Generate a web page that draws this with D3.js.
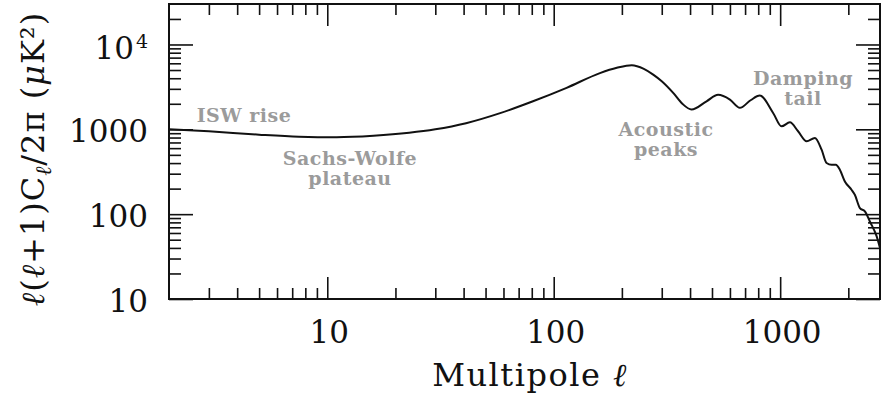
<!DOCTYPE html>
<html lang="en">
<head>
  <meta charset="UTF-8">
  <title>CMB angular power spectrum</title>
  <script src="https://d3js.org/d3.v7.min.js"></script>
  <style>
    body { margin: 0; background: #fff; overflow: hidden; }
    .lbl { font-family: "DejaVu Serif", serif; font-size: 31px; fill: #111; }
    .title { font-family: "DejaVu Serif", serif; font-size: 32px; fill: #111; }
    .note { font-family: "DejaVu Serif", serif; font-weight: bold; font-size: 19px; fill: #9b9b9b; letter-spacing: 0.5px; }
  </style>
</head>
<body>
<svg id="chart" width="881" height="399"></svg>

<script>
// multipole l and l(l+1)C_l/2pi in uK^2
const multipole = [2, 3, 5, 7.5, 11, 16, 23, 30, 41, 58, 81, 114, 160, 190, 221, 250, 275, 300, 337, 370, 406,
  473, 532, 600, 664, 740, 813, 931, 1014, 1104, 1200, 1309, 1423, 1524, 1603, 1686, 1762, 1835, 1931,
  2066, 2137, 2250, 2367, 2490, 2666, 2760];
const power = [1000, 946, 865, 820, 808, 840, 910, 1000, 1180, 1550, 2140, 3080, 4600, 5310, 5700, 5170, 4420, 3690, 2690, 2000, 1710,
  2140, 2550, 2240, 1790, 2200, 2500, 1560, 1084, 1209, 948, 722, 791, 576, 401, 383, 383, 334, 243,
  194, 169, 118, 108, 82, 55, 40];

const xMajor = [10, 100, 1000];
const xMinor = [3, 4, 5, 6, 7, 8, 9, 20, 30, 40, 50, 60, 70, 80, 90, 200, 300, 400, 500, 600, 700, 800, 900, 2000];
const yMajor = [10, 100, 1000, 10000];
const yMinor = [20, 30, 40, 50, 60, 70, 80, 90, 200, 300, 400, 500, 600, 700, 800, 900,
  2000, 3000, 4000, 5000, 6000, 7000, 8000, 9000, 20000];
const xLabels = ["10", "100", "1000"];
const yLabels = [["10", ""], ["100", ""], ["1000", ""], ["10", "4"]];

const notes = [
  ["ISW rise"],
  ["Sachs-Wolfe", "plateau"],
  ["Acoustic", "peaks"],
  ["Damping", "tail"]
];

const svg = d3.select("#chart");
const plotL = 169, plotR = 880, plotT = 4, plotB = 299;

const x = d3.scaleLog().domain([2, 2760]).range([plotL, plotR]);
const y = d3.scaleLog().domain([10, 30000]).range([plotB, plotT]);

// ticks on all four sides, pointing inward
function ticks(gen, vals, len, tx, ty) {
  svg.append("g")
    .attr("transform", `translate(${tx},${ty})`)
    .call(gen.tickValues(vals).tickSize(len).tickFormat(""))
    .call(g => g.select(".domain").remove())
    .call(g => g.selectAll("line").attr("stroke", "#111").attr("stroke-width", 1.6));
}
ticks(d3.axisBottom(x), xMinor, -11, 0, plotB);
ticks(d3.axisBottom(x), xMajor, -22, 0, plotB);
ticks(d3.axisTop(x), xMinor, -11, 0, plotT);
ticks(d3.axisTop(x), xMajor, -22, 0, plotT);
ticks(d3.axisLeft(y), yMinor, -12, plotL, 0);
ticks(d3.axisLeft(y), yMajor, -24, plotL, 0);
ticks(d3.axisRight(y), yMinor, -12, plotR, 0);
ticks(d3.axisRight(y), yMajor, -24, plotR, 0);

svg.append("rect")
  .attr("x", plotL).attr("y", plotT)
  .attr("width", plotR - plotL).attr("height", plotB - plotT)
  .attr("fill", "none").attr("stroke", "#111").attr("stroke-width", 2);

// tick labels
svg.selectAll(".xl").data(xMajor).join("text")
  .attr("class", "lbl")
  .attr("x", d => x(d) + 2).attr("y", 343)
  .attr("text-anchor", "middle")
  .text((d, i) => xLabels[i]);

const yl = svg.selectAll(".yl").data(yMajor).join("text")
  .attr("class", "lbl")
  .attr("x", 148).attr("y", (d, i) => y(d) + (yLabels[i][1] ? 15 : 13))
  .attr("text-anchor", "end");
yl.append("tspan").text((d, i) => yLabels[i][0]);
yl.append("tspan").attr("dx", 2).attr("dy", -11).attr("font-size", 19).text((d, i) => yLabels[i][1]);

// axis titles
const xt = svg.append("text").attr("class", "title")
  .attr("x", 530).attr("y", 386).attr("text-anchor", "middle")
  .attr("letter-spacing", 1.5);
xt.append("tspan").text("Multipole ");
xt.append("tspan").attr("font-style", "italic").text("\u2113");

const yt = svg.append("text").attr("class", "title")
  .attr("transform", "translate(44,159) rotate(-90)")
  .attr("text-anchor", "middle")
  .attr("letter-spacing", 1);
yt.append("tspan").attr("font-style", "italic").text("\u2113");
yt.append("tspan").text("(");
yt.append("tspan").attr("font-style", "italic").text("\u2113");
yt.append("tspan").text("+1)C");
yt.append("tspan").attr("font-style", "italic").attr("font-size", 22).attr("dy", 7).text("\u2113");
yt.append("tspan").attr("dy", -7).text("/2\u03c0  (");
yt.append("tspan").attr("font-style", "italic").text("\u03bc");
yt.append("tspan").text("K\u00b2)");

// the spectrum
const line = d3.line()
  .x((d, i) => x(multipole[i]))
  .y(d => y(d))
  .curve(d3.curveMonotoneX);

svg.append("path")
  .datum(power)
  .attr("d", line)
  .attr("fill", "none")
  .attr("stroke", "#111")
  .attr("stroke-width", 2);

// grey annotations
const notePos = [[244, 122], [350, 165], [666, 136], [803, 85]];
notes.forEach((lines, i) => {
  lines.forEach((t, j) => {
    svg.append("text").attr("class", "note")
      .attr("x", notePos[i][0]).attr("y", notePos[i][1] + j * 20)
      .attr("text-anchor", "middle")
      .text(t);
  });
});
</script>
</body>
</html>
